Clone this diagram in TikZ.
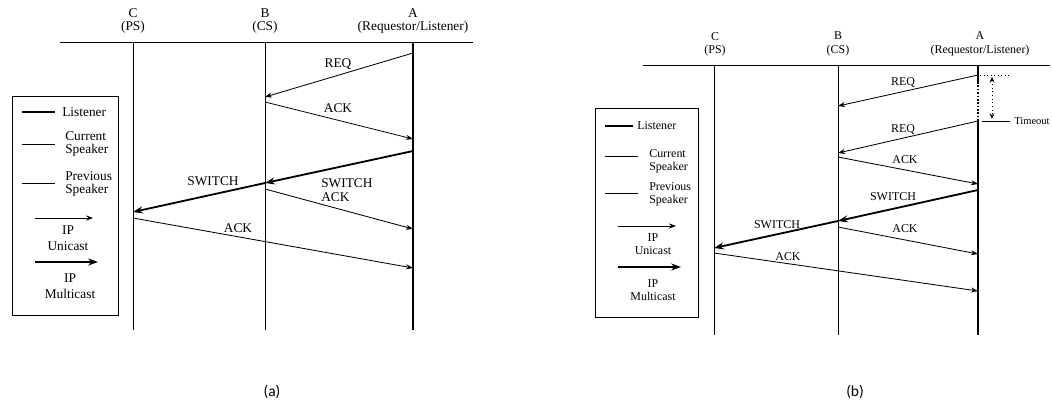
\documentclass[tikz,border=0pt]{standalone}
\usepackage{fontspec}
\setmainfont{Liberation Serif}
\newfontfamily\capfont{Carlito}
\usetikzlibrary{arrows.meta,positioning}

\begin{document}
\begin{tikzpicture}[x=0.025cm, y=-0.025cm,
    hdr/.style={align=center, inner sep=0pt},
    msg/.style={inner sep=0pt},
    leg/.style={align=left, inner sep=0pt, anchor=west},
    legc/.style={align=center, inner sep=0pt},
    listener/.style={line width=1.0pt},
    curspk/.style={line width=0.7pt},
    prevspk/.style={line width=0.45pt},
    uni/.style={-{Stealth[length=5pt, width=3.6pt]}, line width=0.6pt},
    multi/.style={-{Stealth[length=7pt, width=5pt]}, line width=1.3pt},
    legbox/.style={draw, line width=0.7pt}
]
\useasboundingbox (0,0) rectangle (1052,408);

% ---------------- (a) ----------------
\begin{scope}[font=\fontsize{9.5}{11}\selectfont]
\node[hdr] (aC) at (133,21) {C\\[-1.5pt](PS)};
\node[hdr] (aB) at (265,21) {B\\[-1.5pt](CS)};
\node[hdr] (aA) at (413,21) {A\\[-1.5pt](Requestor/Listener)};

\coordinate (aL) at (60,42);
\coordinate (aR) at (473,42);
\coordinate (aCt) at (133,42);  \coordinate (aCb) at (133,330);
\coordinate (aBt) at (265,42);  \coordinate (aBb) at (265,330);
\coordinate (aAt) at (413,42);  \coordinate (aAb) at (413,330);
\draw[line width=0.7pt] (aL) -- (aR);
\draw[prevspk] (aCt) -- (aCb);
\draw[curspk] (aBt) -- (aBb);
\draw[listener] (aAt) -- (aAb);

% messages
\coordinate (aReqS) at (413,53);  \coordinate (aReqE) at (265,97);
\coordinate (aAckS) at (265,102); \coordinate (aAckE) at (413,139);
\coordinate (aSwA) at (413,151);  \coordinate (aSwB) at (265,183);
\coordinate (aSwC) at (133,212);
\coordinate (aSaS) at (265,189);  \coordinate (aSaE) at (413,229);
\coordinate (aAk2S) at (133,218); \coordinate (aAk2E) at (413,268);
\draw[uni] (aReqS) -- (aReqE);
\draw[uni] (aAckS) -- (aAckE);
\draw[multi] (aSwA) -- (aSwB);
\draw[multi] (aSwB) -- (aSwC);
\draw[uni] (aSaS) -- (aSaE);
\draw[uni] (aAk2S) -- (aAk2E);
\node[msg] (aReqL) at (338,64) {REQ};
\node[msg] (aAckL) at (338,108) {ACK};
\node[msg] (aSwL) at (213,181) {SWITCH};
\node[msg, align=left, anchor=west] (aSaL) at (321,190) {SWITCH\\[-1.5pt]ACK};
\node[msg] (aAk2L) at (238,228) {ACK};

% legend
\draw[legbox] (12,96) rectangle (118,315);
\coordinate (aLg1a) at (22,112);  \coordinate (aLg1b) at (55,112);
\coordinate (aLg2a) at (22,144);  \coordinate (aLg2b) at (55,144);
\coordinate (aLg3a) at (22,183);  \coordinate (aLg3b) at (55,183);
\coordinate (aLg4a) at (35,218);  \coordinate (aLg4b) at (93,218);
\coordinate (aLg5a) at (35,262);  \coordinate (aLg5b) at (98,262);
\draw[line width=1.3pt] (aLg1a) -- (aLg1b);
\draw[curspk] (aLg2a) -- (aLg2b);
\draw[prevspk] (aLg3a) -- (aLg3b);
\draw[uni] (aLg4a) -- (aLg4b);
\draw[multi] (aLg5a) -- (aLg5b);
\node[leg] (aLt1) at (62,112) {Listener};
\node[leg] (aLt2) at (65,144) {Current\\[-1.5pt]Speaker};
\node[leg] (aLt3) at (65,184) {Previous\\[-1.5pt]Speaker};
\node[legc] (aLt4) at (68,238) {IP\\[0pt]Unicast};
\node[legc] (aLt5) at (70,286) {IP\\[0pt]Multicast};
\end{scope}

% ---------------- (b) ----------------
\begin{scope}[font=\fontsize{8.5}{10}\selectfont]
\node[hdr] (bC) at (715,44) {C\\[-0.5pt](PS)};
\node[hdr] (bB) at (838,44) {B\\[-0.5pt](CS)};
\node[hdr] (bA) at (980,44) {A\\[-0.5pt](Requestor/Listener)};

\coordinate (bL) at (643,65);
\coordinate (bR) at (1050,65);
\coordinate (bCt) at (714,65);  \coordinate (bCb) at (714,335);
\coordinate (bBt) at (838,65);  \coordinate (bBb) at (838,335);
\coordinate (bAt) at (978,65);  \coordinate (bAw1) at (978,82);
\coordinate (bAw2) at (978,120); \coordinate (bAb) at (978,335);
\draw[line width=0.7pt] (bL) -- (bR);
\draw[prevspk] (bCt) -- (bCb);
\draw[curspk] (bBt) -- (bBb);
\draw[listener] (bAt) -- (bAw1);
\draw[listener, dash pattern=on 1.2pt off 1.2pt] (bAw1) -- (bAw2);
\draw[listener] (bAw2) -- (bAb);

% timeout
\coordinate (bT1) at (992,77);   \coordinate (bT2) at (992,119);
\coordinate (bTt1) at (980,75);  \coordinate (bTt2) at (1010,75);
\coordinate (bTb1) at (982,121); \coordinate (bTb2) at (1010,121);
\draw[dotted, line width=0.6pt, {Stealth[length=4pt, width=3.5pt]}-{Stealth[length=4pt, width=3.5pt]}] (bT1) -- (bT2);
\draw[dotted, line width=0.5pt] (bTt1) -- (bTt2);
\draw[line width=0.5pt] (bTb1) -- (bTb2);
\node[leg, font=\fontsize{7.5}{8}\selectfont] (bTo) at (1014,121) {Timeout};

% messages
\coordinate (bRq1S) at (978,75);  \coordinate (bRq1E) at (838,106);
\coordinate (bRq2S) at (978,121); \coordinate (bRq2E) at (838,153);
\coordinate (bAckS) at (838,157); \coordinate (bAckE) at (978,184);
\coordinate (bSwA) at (978,190);  \coordinate (bSwB) at (838,221);
\coordinate (bSwC) at (714,248);
\coordinate (bSaS) at (838,227);  \coordinate (bSaE) at (978,254);
\coordinate (bAk2S) at (714,253); \coordinate (bAk2E) at (978,291);
\draw[uni] (bRq1S) -- (bRq1E);
\draw[uni] (bRq2S) -- (bRq2E);
\draw[uni] (bAckS) -- (bAckE);
\draw[multi] (bSwA) -- (bSwB);
\draw[multi] (bSwB) -- (bSwC);
\draw[uni] (bSaS) -- (bSaE);
\draw[uni] (bAk2S) -- (bAk2E);
\node[msg] (bRq1L) at (903,83) {REQ};
\node[msg] (bRq2L) at (903,130) {REQ};
\node[msg] (bAckL) at (905,160) {ACK};
\node[msg] (bSw1L) at (893,197) {SWITCH};
\node[msg] (bSw2L) at (777,225) {SWITCH};
\node[msg] (bSaL) at (905,229) {ACK};
\node[msg] (bAk2L) at (788,257) {ACK};

% legend
\draw[legbox] (595,108) rectangle (698,317);
\coordinate (bLg1a) at (605,126);  \coordinate (bLg1b) at (633,126);
\coordinate (bLg2a) at (605,156);  \coordinate (bLg2b) at (638,156);
\coordinate (bLg3a) at (605,193);  \coordinate (bLg3b) at (638,193);
\coordinate (bLg4a) at (618,226);  \coordinate (bLg4b) at (676,226);
\coordinate (bLg5a) at (618,267);  \coordinate (bLg5b) at (681,267);
\draw[line width=1.3pt] (bLg1a) -- (bLg1b);
\draw[curspk] (bLg2a) -- (bLg2b);
\draw[prevspk] (bLg3a) -- (bLg3b);
\draw[uni] (bLg4a) -- (bLg4b);
\draw[multi] (bLg5a) -- (bLg5b);
\node[leg] (bLt1) at (637,126) {Listener};
\node[leg] (bLt2) at (649,161) {Current\\[-1pt]Speaker};
\node[leg] (bLt3) at (649,194) {Previous\\[-1pt]Speaker};
\node[legc] (bLt4) at (653,244) {IP\\[-1pt]Unicast};
\node[legc] (bLt5) at (653,290) {IP\\[-1pt]Multicast};
\end{scope}

% captions
\node[font=\capfont\fontsize{11}{12}\selectfont, inner sep=0pt] (capA) at (272,392) {(a)};
\node[font=\capfont\fontsize{11}{12}\selectfont, inner sep=0pt] (capB) at (855,392) {(b)};
\end{tikzpicture}
\end{document}
